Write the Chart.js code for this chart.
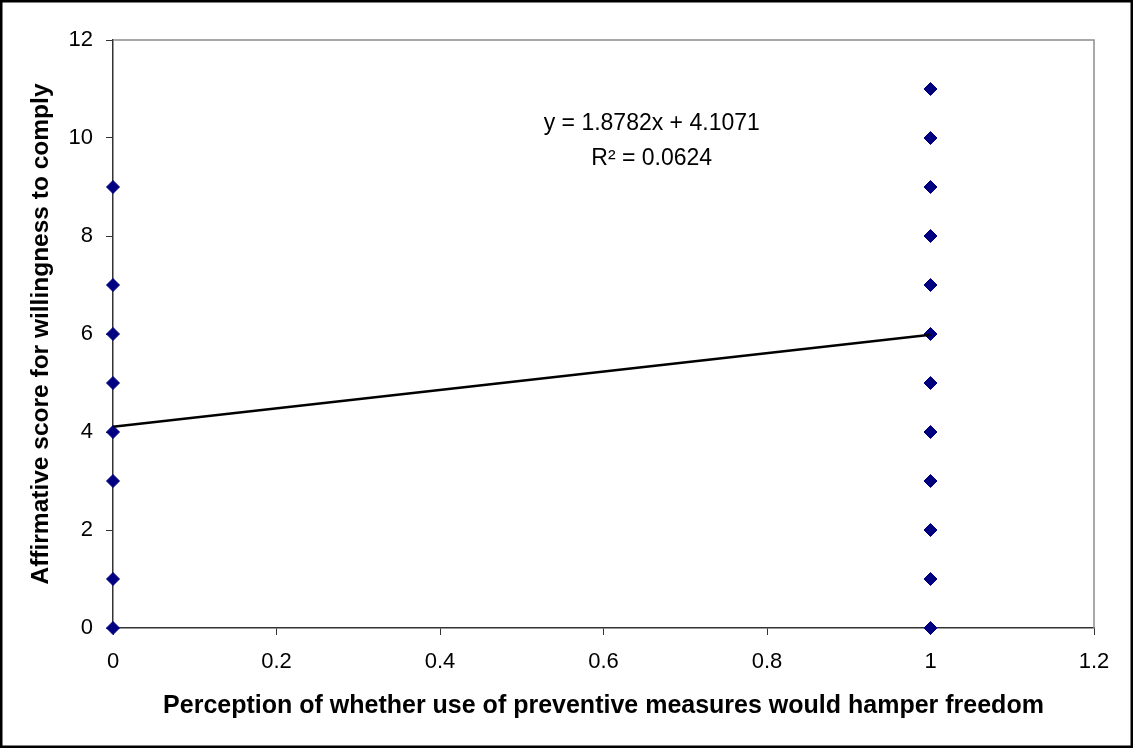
<!DOCTYPE html>
<html>
<head>
<meta charset="utf-8">
<script src="https://cdn.jsdelivr.net/npm/chart.js@4.4.1/dist/chart.umd.min.js"></script>
<style>
  html, body { margin: 0; padding: 0; background: #fff; }
  #wrap { width: 1133px; height: 748px; }
</style>
</head>
<body>
<div id="wrap"><canvas id="compliance"></canvas></div>
<script>
// perception of hampered freedom: 0 = no, 1 = yes
var scoresNo = [0, 1, 3, 4, 5, 6, 7, 9];
var scoresYes = [0, 1, 2, 3, 4, 5, 6, 7, 8, 9, 10, 11];

// linear trend fitted over both groups
var slope = 1.8782;
var intercept = 4.1071;
var rSquared = '0.0624';

var xTicks = [0, 0.2, 0.4, 0.6, 0.8, 1, 1.2];
var yTicks = [0, 2, 4, 6, 8, 10, 12];

var FONT = 'Arial, "Liberation Sans", sans-serif';

var points = scoresNo.map(function (v) { return { x: 0, y: v }; })
    .concat(scoresYes.map(function (v) { return { x: 1, y: v }; }));

var trend = [0, 1].map(function (x) { return { x: x, y: slope * x + intercept }; });

// frame around the canvas, grey edge on plot top/right, and the trend equation
var decorations = {
    id: 'decorations',
    afterDatasetsDraw: function (chart) {
        var ctx = chart.ctx;
        var a = chart.chartArea;
        ctx.save();
        ctx.strokeStyle = '#8c8c8c';
        ctx.lineWidth = 1.5;
        ctx.beginPath();
        ctx.moveTo(a.left, a.top);
        ctx.lineTo(a.right, a.top);
        ctx.lineTo(a.right, a.bottom);
        ctx.stroke();

        var xs = chart.scales.x, ys = chart.scales.y;
        ctx.fillStyle = '#000';
        ctx.font = '23px ' + FONT;
        ctx.textAlign = 'center';
        ctx.textBaseline = 'middle';
        var cx = xs.getPixelForValue(0.659);
        ctx.fillText('y = ' + slope + 'x + ' + intercept, cx, ys.getPixelForValue(10.3));
        ctx.fillText('R\u00b2 = ' + rSquared, cx, ys.getPixelForValue(9.57));

        ctx.strokeStyle = '#000';
        ctx.lineWidth = 2.5;
        ctx.strokeRect(1.25, 1.25, chart.width - 2.5, chart.height - 2.5);
        ctx.restore();
    }
};

new Chart(document.getElementById('compliance').getContext('2d'), {
    type: 'scatter',
    data: {
        datasets: [
            {
                type: 'line',
                data: trend,
                borderColor: '#000',
                borderWidth: 2.5,
                pointRadius: 0,
                fill: false,
                clip: false
            },
            {
                data: points,
                pointStyle: 'rectRot',
                pointRadius: 6.5,
                pointHoverRadius: 6.5,
                backgroundColor: '#000080',
                borderColor: '#000080',
                borderWidth: 1,
                clip: false
            }
        ]
    },
    plugins: [decorations],
    options: {
        responsive: true,
        maintainAspectRatio: false,
        animation: false,
        layout: { padding: { left: 0, top: 40, right: 39, bottom: 0 } },
        plugins: { legend: { display: false }, tooltip: { enabled: false } },
        scales: {
            x: {
                type: 'linear',
                min: 0,
                max: 1.2,
                afterBuildTicks: function (s) { s.ticks = xTicks.map(function (v) { return { value: v }; }); },
                afterFit: function (s) { s.height = 120; },
                grid: { drawOnChartArea: false, drawTicks: true, tickLength: 7, color: '#333' },
                border: { color: '#333', width: 1.5 },
                ticks: {
                    color: '#000',
                    font: { family: FONT, size: 22 },
                    padding: 14,
                    maxRotation: 0,
                    callback: function (v) { return String(Math.round(v * 10) / 10); }
                },
                title: {
                    display: true,
                    text: 'Perception of whether use of preventive measures would hamper freedom',
                    color: '#000',
                    font: { family: FONT, size: 25, weight: 'bold' },
                    padding: { top: 0, bottom: 27 }
                }
            },
            y: {
                min: 0,
                max: 12,
                afterBuildTicks: function (s) { s.ticks = yTicks.map(function (v) { return { value: v }; }); },
                afterFit: function (s) { s.width = 113; },
                grid: { drawOnChartArea: false, drawTicks: true, tickLength: 7, color: '#333' },
                border: { color: '#333', width: 1.5 },
                ticks: { color: '#000', font: { family: FONT, size: 22 }, padding: 13 },
                title: {
                    display: true,
                    text: 'Affirmative score for willingness to comply',
                    color: '#000',
                    font: { family: FONT, size: 24.5, weight: 'bold' },
                    padding: { top: 27, bottom: 0 }
                }
            }
        }
    }
});
</script>
</body>
</html>
